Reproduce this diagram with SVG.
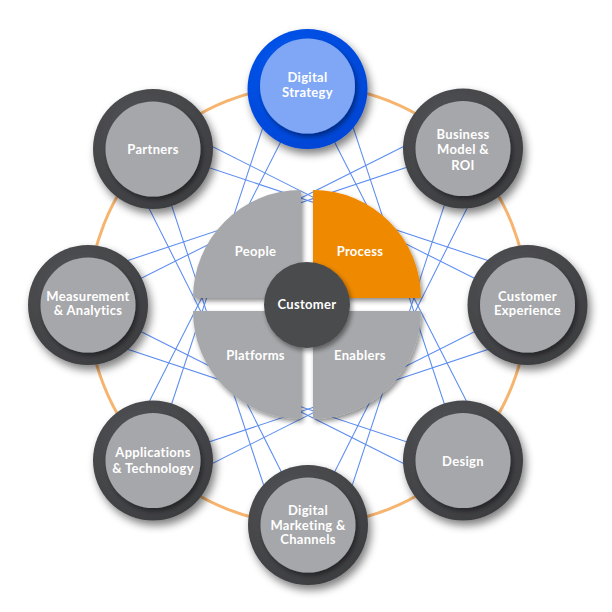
<svg xmlns="http://www.w3.org/2000/svg" width="612" height="612" viewBox="0 0 612 612">
<defs>
<style>
.lbl{font-family:Lato,"Open Sans","Liberation Sans",sans-serif;font-weight:700;font-size:13px;fill:#ffffff;text-anchor:middle;letter-spacing:0.3px}
.ring{fill:url(#ringGrad)}
.inner{fill:#a6a7aa}
.conn{stroke:#5b8cf0;stroke-width:1.05;fill:none}
.quad{fill:#a7a8ab}
</style>
<radialGradient id="ringGrad" cx="0.4" cy="0.35" r="0.7">
<stop offset="0" stop-color="#55565a"/>
<stop offset="1" stop-color="#3c3d40"/>
</radialGradient>
<radialGradient id="blueGrad" cx="0.4" cy="0.35" r="0.7">
<stop offset="0" stop-color="#0a5af2"/>
<stop offset="1" stop-color="#0044d4"/>
</radialGradient>
<filter id="sh" x="-30%" y="-30%" width="170%" height="170%">
<feGaussianBlur in="SourceAlpha" stdDeviation="4"/>
<feOffset dx="3" dy="5" result="o"/>
<feComponentTransfer><feFuncA type="linear" slope="0.5"/></feComponentTransfer>
<feMerge><feMergeNode/><feMergeNode in="SourceGraphic"/></feMerge>
</filter>
<filter id="shs" x="-30%" y="-30%" width="170%" height="170%">
<feGaussianBlur in="SourceAlpha" stdDeviation="2.5"/>
<feOffset dx="2" dy="3" result="o"/>
<feComponentTransfer><feFuncA type="linear" slope="0.45"/></feComponentTransfer>
<feMerge><feMergeNode/><feMergeNode in="SourceGraphic"/></feMerge>
</filter>
</defs>
<rect width="612" height="612" fill="#ffffff"/>
<g id="orbit">
<circle cx="308" cy="305" r="219.5" fill="none" stroke="#f6b46e" stroke-width="3"/>
</g>
<g id="connectors" class="conn">
<line x1="307.5" y1="89" x2="484.2" y2="435.9"/>
<line x1="307.5" y1="89" x2="131.8" y2="435.9"/>
<line x1="463" y1="148.5" x2="340.1" y2="522.2"/>
<line x1="463" y1="148.5" x2="90.8" y2="272.9"/>
<line x1="527.5" y1="305" x2="177.1" y2="481.2"/>
<line x1="527.5" y1="305" x2="177.1" y2="128.8"/>
<line x1="463" y1="460.5" x2="90.8" y2="337.1"/>
<line x1="463" y1="460.5" x2="340.1" y2="87.8"/>
<line x1="308" y1="525" x2="131.8" y2="174.1"/>
<line x1="308" y1="525" x2="484.2" y2="174.1"/>
<line x1="153" y1="460.5" x2="275.9" y2="87.8"/>
<line x1="153" y1="460.5" x2="525.2" y2="337.1"/>
<line x1="88" y1="305" x2="438.9" y2="128.8"/>
<line x1="88" y1="305" x2="438.9" y2="481.2"/>
<line x1="153" y1="149" x2="525.2" y2="272.9"/>
<line x1="153" y1="149" x2="275.9" y2="522.2"/>
</g>
<g id="node-digital-strategy">
<circle cx="307.5" cy="89" r="60" fill="url(#blueGrad)" filter="url(#sh)"/>
<circle cx="307.5" cy="86" r="47.5" fill="#7fa7f6" filter="url(#shs)"/>
<text class="lbl" x="307.5" y="82">Digital</text>
<text class="lbl" x="307.5" y="96.5">Strategy</text>
</g>
<g id="node-business-model">
<circle class="ring" cx="463" cy="148.5" r="60" filter="url(#sh)"/>
<circle class="inner" cx="463" cy="148.5" r="47.5" filter="url(#shs)"/>
<text class="lbl" x="463" y="138.5">Business</text>
<text class="lbl" x="463" y="154">Model &amp;</text>
<text class="lbl" x="463" y="169.5">ROI</text>
</g>
<g id="node-customer-experience">
<circle class="ring" cx="527.5" cy="305" r="60" filter="url(#sh)"/>
<circle class="inner" cx="527.5" cy="305" r="47.5" filter="url(#shs)"/>
<text class="lbl" x="527.5" y="300.5">Customer</text>
<text class="lbl" x="527.5" y="315">Experience</text>
</g>
<g id="node-design">
<circle class="ring" cx="463" cy="460.5" r="60" filter="url(#sh)"/>
<circle class="inner" cx="463" cy="460.5" r="47.5" filter="url(#shs)"/>
<text class="lbl" x="463" y="466">Design</text>
</g>
<g id="node-digital-marketing">
<circle class="ring" cx="308" cy="525" r="60" filter="url(#sh)"/>
<circle class="inner" cx="308" cy="525" r="47.5" filter="url(#shs)"/>
<text class="lbl" x="308" y="514.5">Digital</text>
<text class="lbl" x="308" y="529.5">Marketing &amp;</text>
<text class="lbl" x="308" y="544">Channels</text>
</g>
<g id="node-applications">
<circle class="ring" cx="153" cy="460.5" r="60" filter="url(#sh)"/>
<circle class="inner" cx="153" cy="460.5" r="47.5" filter="url(#shs)"/>
<text class="lbl" x="153" y="457">Applications</text>
<text class="lbl" x="153" y="472.5">&amp; Technology</text>
</g>
<g id="node-measurement">
<circle class="ring" cx="88" cy="305" r="60" filter="url(#sh)"/>
<circle class="inner" cx="88" cy="305" r="47.5" filter="url(#shs)"/>
<text class="lbl" x="88" y="300.5">Measurement</text>
<text class="lbl" x="88" y="315">&amp; Analytics</text>
</g>
<g id="node-partners">
<circle class="ring" cx="153" cy="149" r="60" filter="url(#sh)"/>
<circle class="inner" cx="153" cy="149" r="47.5" filter="url(#shs)"/>
<text class="lbl" x="153" y="153.5">Partners</text>
</g>
<g id="node-people">
<path class="quad" d="M301,298 L301,190 A108,108 0 0 0 193,298 Z" filter="url(#shs)"/>
<text class="lbl" x="255.5" y="256">People</text>
</g>
<g id="node-process">
<path d="M313,298 L313,190 A108,108 0 0 1 421,298 Z" fill="#ef8900" filter="url(#shs)"/>
<text class="lbl" x="360" y="256">Process</text>
</g>
<g id="node-platforms">
<path class="quad" d="M301,311 L193,311 A108,108 0 0 0 301,419 Z" filter="url(#shs)"/>
<text class="lbl" x="255.5" y="359.5">Platforms</text>
</g>
<g id="node-enablers">
<path class="quad" d="M313,311 L421,311 A108,108 0 0 1 313,419 Z" filter="url(#shs)"/>
<text class="lbl" x="360" y="359.5">Enablers</text>
</g>
<g id="node-customer">
<circle cx="307" cy="305" r="43" fill="#4a4b4e" filter="url(#shs)"/>
<text class="lbl" x="307" y="309">Customer</text>
</g>
</svg>
